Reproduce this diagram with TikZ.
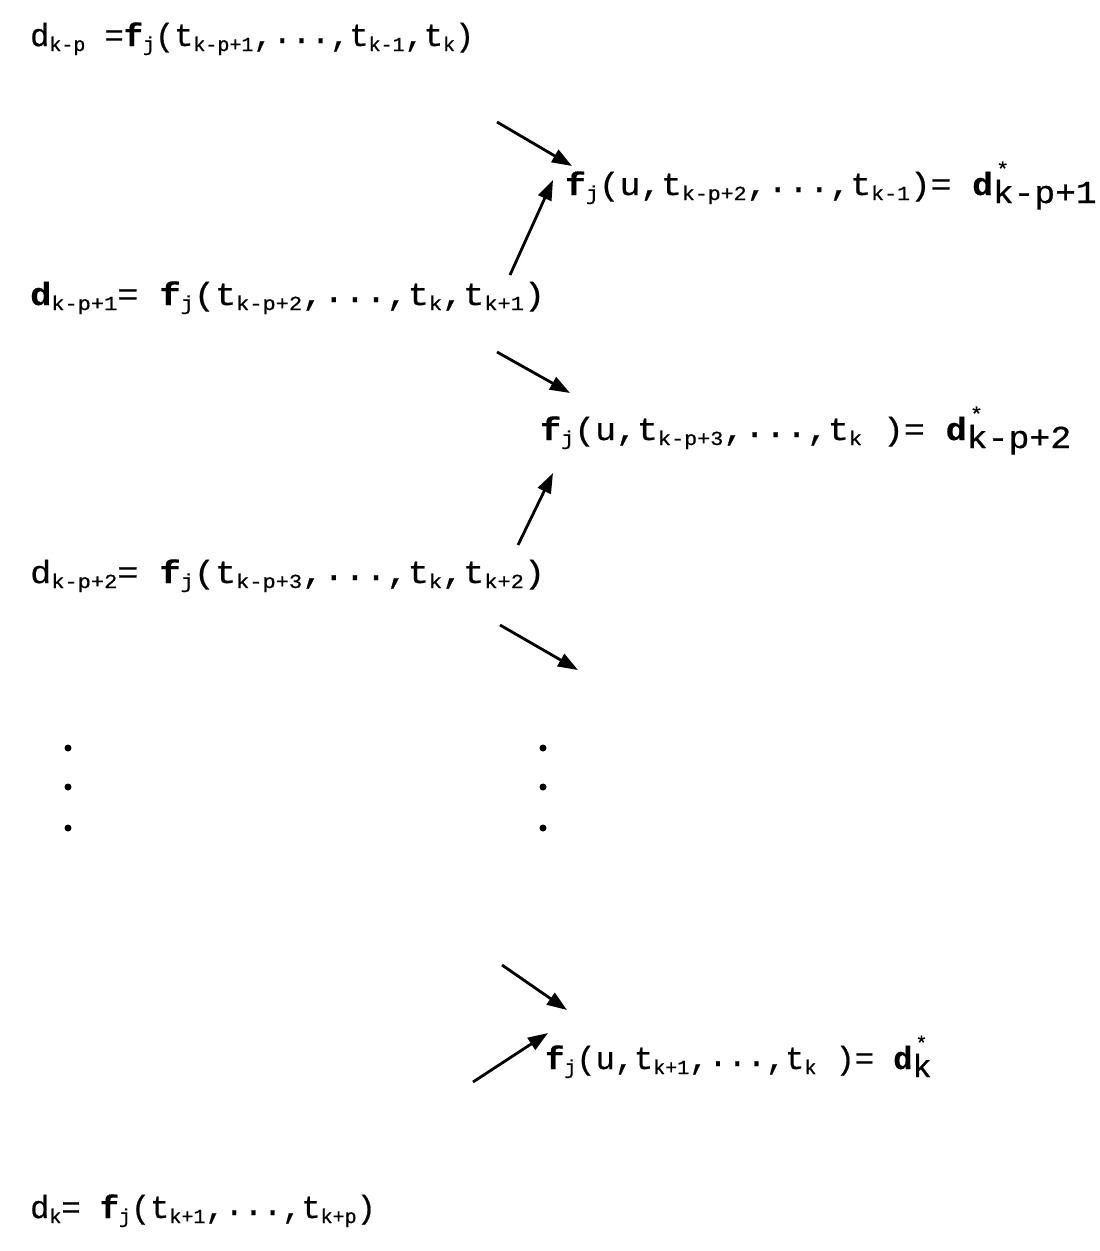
\documentclass[tikz,border=0pt]{standalone}
\usepackage{fontspec}
\setmonofont[FakeBold=0.6]{Liberation Mono}
\usetikzlibrary{arrows.meta}
\newcommand\mfont{\fontsize{32}{36}\selectfont\ttfamily}
\newcommand\lo[1]{\raisebox{-5pt}{\fontsize{20}{22}\selectfont\ttfamily #1}}
\newcommand\ff{\textbf{f}}
\newcommand\dd{\textbf{d}}
\newcommand\dts{\raisebox{3pt}{...}}
\newcommand\dstar[1]{\textbf{d}\raisebox{-8pt}{\rlap{\hspace{3pt}\raisebox{27pt}{\fontsize{20}{20}\selectfont *}}#1}}
\tikzset{
  lbl/.style={inner sep=0pt, anchor=base west, font=\mfont},
  arr/.style={line width=2.8pt, -{Triangle[length=20pt,width=14pt]}},
  dotn/.style={circle, fill=black, inner sep=0pt, minimum size=7pt}
}
\begin{document}
\begin{tikzpicture}[x=1pt,y=-1pt]
\useasboundingbox (0,0) rectangle (1100,1251);
\node[lbl] (r1) at (30,46) {d\lo{k-p} =\ff\lo{j}(t\lo{k-p+1},\dts,t\lo{k-1},t\lo{k})};
\node[lbl] (r2) at (565,195) {\scalebox{1.08}[1]{\ff\lo{j}(u,t\lo{k-p+2},\dts,t\lo{k-1})= \dstar{k-p+1}}};
\node[lbl] (r3) at (30,305) {\scalebox{1.1}[1]{\dd\lo{k-p+1}= \ff\lo{j}(t\lo{k-p+2},\dts,t\lo{k},t\lo{k+1})}};
\node[lbl] (r4) at (540,440) {\scalebox{1.09}[1]{\ff\lo{j}(u,t\lo{k-p+3},\dts,t\lo{k} )= \dstar{k-p+2}}};
\node[lbl] (r5) at (30,583) {\scalebox{1.1}[1]{d\lo{k-p+2}= \ff\lo{j}(t\lo{k-p+3},\dts,t\lo{k},t\lo{k+2})}};
\node[lbl] (r6) at (545,1069) {\ff\lo{j}(u,t\lo{k+1},\dts,t\lo{k} )= \dstar{k}};
\node[lbl] (r7) at (30,1218) {d\lo{k}= \ff\lo{j}(t\lo{k+1},\dts,t\lo{k+p})};
% arrows
\coordinate (a1s) at (497,122); \coordinate (a1e) at (572,166);
\coordinate (a2s) at (510,275); \coordinate (a2e) at (553,180);
\coordinate (a3s) at (497,352); \coordinate (a3e) at (570,393);
\coordinate (a4s) at (518,545); \coordinate (a4e) at (553,473);
\coordinate (a5s) at (500,625); \coordinate (a5e) at (578,670);
\coordinate (a6s) at (502,965); \coordinate (a6e) at (567,1010);
\coordinate (a7s) at (473,1082); \coordinate (a7e) at (548,1033);
\draw[arr] (a1s) -- (a1e);
\draw[arr] (a2s) -- (a2e);
\draw[arr] (a3s) -- (a3e);
\draw[arr] (a4s) -- (a4e);
\draw[arr] (a5s) -- (a5e);
\draw[arr] (a6s) -- (a6e);
\draw[arr] (a7s) -- (a7e);
% vertical dots
\node[dotn] (dl1) at (68,748) {};
\node[dotn] (dl2) at (68,787) {};
\node[dotn] (dl3) at (68,828) {};
\node[dotn] (dr1) at (543,748) {};
\node[dotn] (dr2) at (543,787) {};
\node[dotn] (dr3) at (543,828) {};
\end{tikzpicture}
\end{document}
